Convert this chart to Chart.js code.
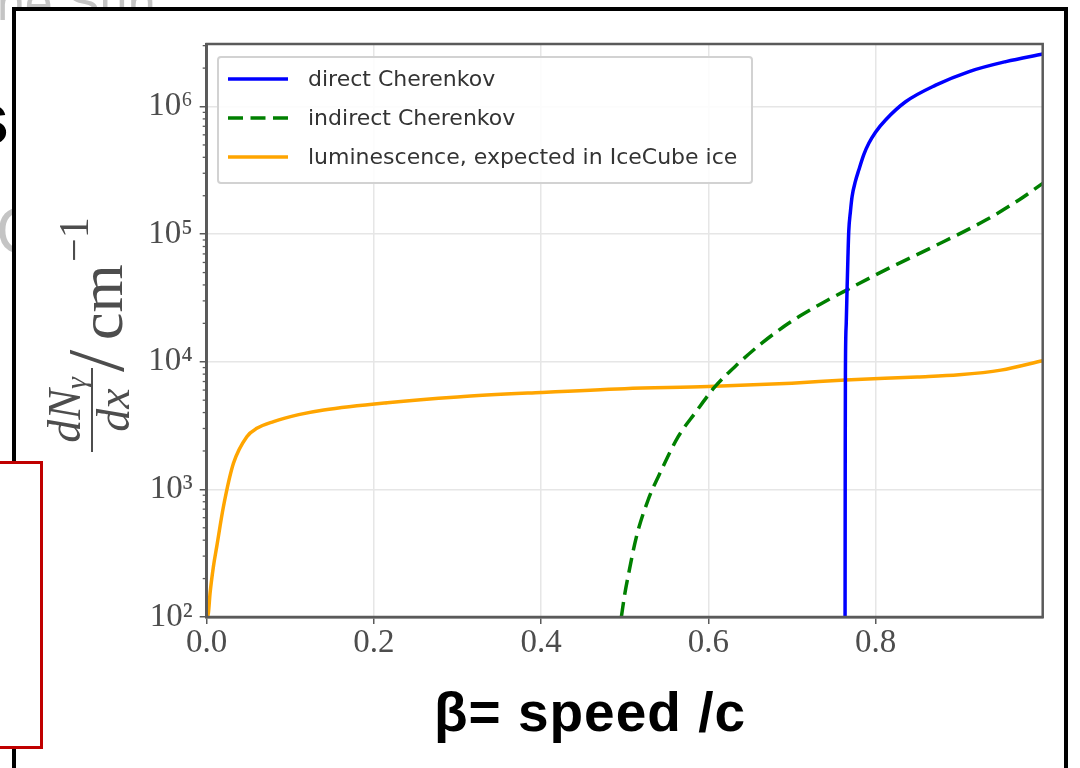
<!DOCTYPE html>
<html>
<head>
<meta charset="utf-8">
<script src="https://cdn.jsdelivr.net/npm/chart.js@4.4.1/dist/chart.umd.min.js"></script>
<style>
  html, body { margin: 0; padding: 0; background: #fff; width: 1080px; height: 768px; overflow: hidden; position: relative; }
  .bg-text { position: absolute; white-space: nowrap; line-height: 1; font-family: 'Liberation Sans', Arial, sans-serif; z-index: 0; }
  #frame { position: absolute; left: 12px; top: 7px; width: 1056px; height: 800px; box-sizing: border-box; border: 4px solid #000; background: #fff; z-index: 1; }
  #chart { position: absolute; left: 0; top: 0; z-index: 2; filter: blur(0.7px); }
  #xtitle { position: absolute; left: 390px; top: 680px; width: 400px; text-align: center; white-space: nowrap; line-height: 1;
            font: bold 55px 'Liberation Sans', Arial, sans-serif; letter-spacing: 1px; color: #000; z-index: 3; }
  #note { position: absolute; left: -10px; top: 461px; width: 53px; height: 288px; box-sizing: border-box; border: 3px solid #c00000; background: #fff; z-index: 4; }
</style>
</head>
<body>
<div class="bg-text" style="left:-3px; top:-22px; font-size:50px; color:#c4c4c4;">ne Sun</div>
<div class="bg-text" style="left:-4px; top:199px; font-size:64px; color:#c4c4c4;">C</div>
<div class="bg-text" style="left:-32px; top:82px; font-size:74px; font-weight:bold; color:#000;">s</div>
<div id="frame"></div>
<canvas id="chart" width="1080" height="768"></canvas>
<div id="xtitle">β= speed /c</div>
<div id="note"></div>

<script>
// ---- data: photon yield per cm vs. particle speed β ----
const seriesLabels = ['direct Cherenkov', 'indirect Cherenkov', 'luminescence, expected in IceCube ice'];

const betaDirect = [0.7636, 0.7638, 0.764, 0.765, 0.766, 0.767, 0.768, 0.770, 0.772, 0.776, 0.780, 0.786, 0.792, 0.800, 0.812, 0.836, 0.872, 0.912, 0.956, 1.0];
const yieldDirect = [100, 2000, 8000, 20000, 37000, 65000, 105000, 150000, 197000, 260000, 318000, 420000, 515000, 630000, 785000, 1090000, 1470000, 1880000, 2250000, 2580000];

const betaIndirect = [0.496, 0.500, 0.504, 0.514, 0.528, 0.544, 0.564, 0.584, 0.608, 0.636, 0.664, 0.690, 0.710, 0.735, 0.766, 0.812, 0.868, 0.932, 0.972, 1.0];
const yieldIndirect = [100, 150, 207, 425, 826, 1420, 2590, 3950, 6380, 9700, 14000, 18800, 22900, 28500, 36600, 52500, 79000, 129000, 186000, 250000];

const betaLum = [0.0, 0.002, 0.004, 0.008, 0.012, 0.020, 0.032, 0.048, 0.060, 0.080, 0.110, 0.140, 0.216, 0.300, 0.400, 0.500, 0.600, 0.700, 0.764, 0.850, 0.900, 0.950, 1.0];
const yieldLum = [100, 107, 153, 248, 356, 731, 1600, 2590, 3010, 3400, 3850, 4190, 4780, 5300, 5750, 6150, 6390, 6800, 7200, 7600, 7900, 8600, 10200];

const xTickValues = [0.0, 0.2, 0.4, 0.6, 0.8];
const yDecadeExponents = [2, 3, 4, 5, 6];
const superscripts = { 2: '²', 3: '³', 4: '⁴', 5: '⁵', 6: '⁶' };

const seriesColors = ['#0000ff', '#008000', '#ffa500'];
const seriesDash = [[], [15, 7.5], []];

function pairs(xs, ys) { return xs.map((x, i) => ({ x: x, y: ys[i] })); }

// minor log ticks (2..9 × 10^n) drawn as short marks on the left spine
const yMinorValues = [];
for (let e = 2; e <= 6; e++) for (let m = 2; m <= 9; m++) {
  const v = m * Math.pow(10, e);
  if (v <= 3.09e6) yMinorValues.push(v);
}

const tickFont = { family: "'Liberation Serif', 'Times New Roman', serif", size: 33 };
const tickColor = '#4d4d4d';

// frame (all four spines) and minor ticks
const framePlugin = {
  id: 'framePlugin',
  afterDatasetsDraw(chart) {
    const { ctx, chartArea: a, scales } = chart;
    ctx.save();
    ctx.strokeStyle = '#5a5a5a';
    ctx.lineWidth = 1.3;
    yMinorValues.forEach(v => {
      const py = scales.y.getPixelForValue(v);
      ctx.beginPath(); ctx.moveTo(a.left, py); ctx.lineTo(a.left - 4, py); ctx.stroke();
    });
    ctx.lineWidth = 2.5;
    ctx.strokeRect(a.left, a.top, a.right - a.left, a.bottom - a.top);
    ctx.restore();
  }
};

// legend box in the upper-left corner of the plot
const legendBox = {
  id: 'legendBox',
  afterDraw(chart) {
    const ctx = chart.ctx;
    const box = { l: 218, t: 57, r: 752, b: 183 };
    ctx.save();
    ctx.beginPath();
    ctx.roundRect(box.l, box.t, box.r - box.l, box.b - box.t, 3);
    ctx.fillStyle = 'rgba(255,255,255,0.85)';
    ctx.fill();
    ctx.strokeStyle = '#d2d2d2';
    ctx.lineWidth = 2;
    ctx.stroke();
    const rows = [79, 118, 157];
    chart.data.datasets.forEach((ds, i) => {
      const y = rows[i];
      ctx.beginPath();
      ctx.setLineDash(ds.borderDash || []);
      ctx.strokeStyle = ds.borderColor;
      ctx.lineWidth = ds.borderWidth;
      ctx.moveTo(228, y); ctx.lineTo(288, y);
      ctx.stroke();
      ctx.setLineDash([]);
      ctx.fillStyle = '#333';
      ctx.font = "22px 'DejaVu Sans', sans-serif";
      ctx.textBaseline = 'middle';
      ctx.fillText(ds.label, 308, y + 1);
    });
    ctx.restore();
  }
};

// rotated y-axis title: dN_γ/dx /cm^-1
const yTitlePlugin = {
  id: 'yTitlePlugin',
  afterDraw(chart) {
    const ctx = chart.ctx;
    ctx.save();
    ctx.rotate(-Math.PI / 2);   // local (lx, ly) -> screen (ly, -lx)
    ctx.fillStyle = '#4d4d4d';
    ctx.strokeStyle = '#4d4d4d';
    ctx.textBaseline = 'alphabetic';
    ctx.textAlign = 'left';
    const serif = "'Liberation Serif', 'Times New Roman', serif";
    const cx = -410;
    // numerator
    ctx.font = 'italic 46px ' + serif;
    const wdN = ctx.measureText('dN').width;
    ctx.font = 'italic 30px ' + serif;
    const wg = ctx.measureText('γ').width;
    const n0 = cx - (wdN + wg) / 2;
    ctx.font = 'italic 46px ' + serif;
    ctx.fillText('dN', n0, 80);
    ctx.font = 'italic 30px ' + serif;
    ctx.fillText('γ', n0 + wdN, 86);
    // fraction bar
    ctx.lineWidth = 2;
    ctx.beginPath(); ctx.moveTo(-452, 92); ctx.lineTo(-368, 92); ctx.stroke();
    // denominator
    ctx.font = 'italic 46px ' + serif;
    const wdx = ctx.measureText('dx').width;
    ctx.fillText('dx', cx - wdx / 2, 129);
    // slash, unit and exponent
    ctx.font = '80px ' + serif;
    ctx.fillText('/', -372, 123);
    ctx.font = '62px ' + serif;
    ctx.fillText('cm', -340, 122);
    ctx.font = '42px ' + serif;
    ctx.fillText('−1', -262, 88);
    ctx.restore();
  }
};

const chart = new Chart(document.getElementById('chart'), {
  type: 'line',
  data: {
    datasets: [
      { label: seriesLabels[0], data: pairs(betaDirect, yieldDirect), borderColor: seriesColors[0], borderDash: seriesDash[0], borderWidth: 3.5 },
      { label: seriesLabels[1], data: pairs(betaIndirect, yieldIndirect), borderColor: seriesColors[1], borderDash: seriesDash[1], borderWidth: 3.5 },
      { label: seriesLabels[2], data: pairs(betaLum, yieldLum), borderColor: seriesColors[2], borderDash: seriesDash[2], borderWidth: 3.5 }
    ]
  },
  options: {
    responsive: false,
    animation: false,
    devicePixelRatio: 1,
    events: [],
    layout: { padding: { left: 0, top: 44, right: 37.3, bottom: 0 } },
    elements: {
      point: { radius: 0 },
      line: { cubicInterpolationMode: 'monotone', fill: false, borderCapStyle: 'butt' }
    },
    plugins: { legend: { display: false }, tooltip: { enabled: false }, title: { display: false } },
    scales: {
      x: {
        type: 'linear',
        min: 0,
        max: 1.0,
        afterBuildTicks: (scale) => { scale.ticks = xTickValues.map(v => ({ value: v })); },
        afterFit: (scale) => { scale.height = 151; },
        ticks: { font: tickFont, color: tickColor, padding: 0, maxRotation: 0, callback: (v) => Number(v).toFixed(1) },
        grid: { color: '#e6e6e6', lineWidth: 1.5, drawTicks: true, tickLength: 7, tickColor: '#5a5a5a', tickWidth: 1.5 },
        border: { display: true, color: '#5a5a5a', width: 2.5 },
        title: { display: false }
      },
      y: {
        type: 'logarithmic',
        min: 100,
        max: 3.09e6,
        afterBuildTicks: (scale) => { scale.ticks = yDecadeExponents.map(e => ({ value: Math.pow(10, e) })); },
        afterFit: (scale) => { scale.width = 206.7; },
        ticks: {
          font: tickFont, color: tickColor, padding: 7,
          callback: (v) => { const e = Math.round(Math.log10(v)); return '10' + superscripts[e]; }
        },
        grid: { color: '#e6e6e6', lineWidth: 1.5, drawTicks: true, tickLength: 7, tickColor: '#5a5a5a', tickWidth: 1.5 },
        border: { display: true, color: '#5a5a5a', width: 2.5 },
        title: { display: false }
      }
    }
  },
  plugins: [framePlugin, legendBox, yTitlePlugin]
});
</script>
</body>
</html>
